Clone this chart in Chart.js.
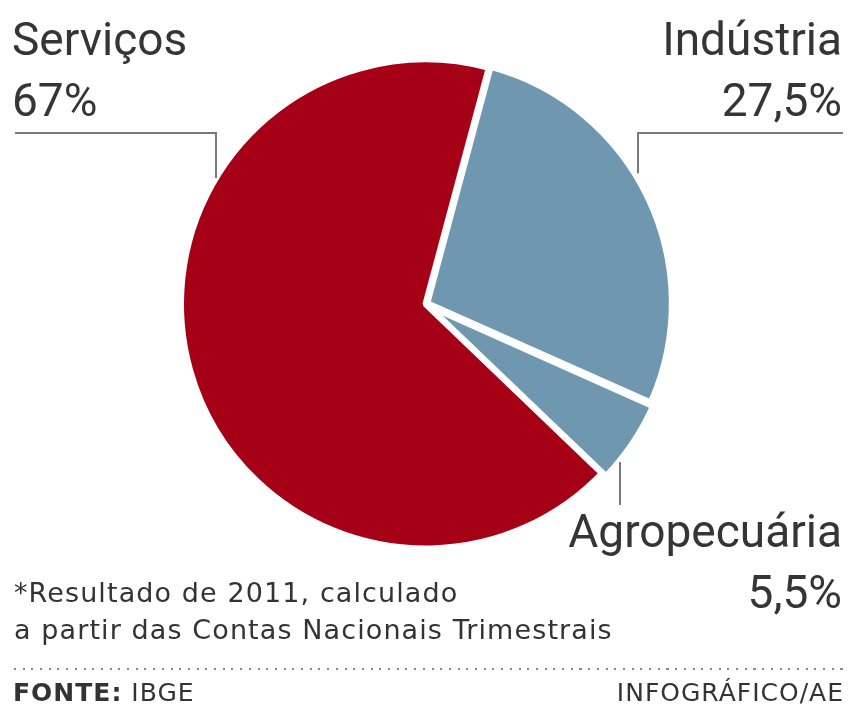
<!DOCTYPE html>
<html lang="pt-BR">
<head>
<meta charset="utf-8">
<script src="https://cdn.jsdelivr.net/npm/chart.js@4/dist/chart.umd.min.js"></script>
<style>
  html, body { margin: 0; padding: 0; background: #fff; }
  #wrap { position: relative; width: 849px; height: 704px; overflow: hidden; }
  #pie { position: absolute; left: 0; top: 0; }
  .lbl { position: absolute; font-family: Roboto, "DejaVu Sans", sans-serif; font-size: 46px; color: #353535; line-height: 61px; white-space: nowrap; }
  .right { text-align: right; }
  .note { position: absolute; left: 14px; top: 574px; font-family: "DejaVu Sans", sans-serif; font-size: 27px; letter-spacing: 1.1px; line-height: 37px; color: #333; white-space: nowrap; }
  .dots { position: absolute; left: 14px; right: 6px; top: 668px; height: 2px;
          background: repeating-linear-gradient(to right, #8a8a8a 0 2px, transparent 2px 8.7px); }
  .foot { position: absolute; top: 680px; font-family: "DejaVu Sans", sans-serif; font-size: 25px; letter-spacing: 1px; color: #333; line-height: 25px; white-space: nowrap; }
</style>
</head>
<body>
<div id="wrap">
  <canvas id="pie" width="849" height="704"></canvas>
  <div class="lbl" id="lblServ" style="left:12px; top:9px;"></div>
  <div class="lbl right" id="lblInd" style="right:7px; top:9px;"></div>
  <div class="lbl right" id="lblAgro" style="right:7px; top:501px;"></div>
  <div class="note">*Resultado de 2011, calculado<br>a partir das Contas Nacionais Trimestrais</div>
  <div class="dots"></div>
  <div class="foot" style="left:13px;"><b>FONTE:</b> IBGE</div>
  <div class="foot" style="right:5px;">INFOGRÁFICO/AE</div>
</div>
<script>
document.addEventListener("DOMContentLoaded", () => {
    // PIB por setor, 2011 (% do total)
    const categories = ["Indústria", "Agropecuária", "Serviços"];
    const shares = [27.5, 5.5, 67];

    const red = "#a60016";
    const blue = "#6f97b0";

    const fmt = (v) => String(v).replace(".", ",") + "%";

    // labels: name on one line, share on the next
    const put = (id, i) => {
        document.getElementById(id).innerHTML = categories[i] + "<br>" + fmt(shares[i]);
    };
    put("lblInd", 0);
    put("lblAgro", 1);
    put("lblServ", 2);

    // leader lines from the labels to the pie edge
    const leaders = {
        id: "leaders",
        afterDatasetsDraw(chart) {
            const arc = chart.getDatasetMeta(0).data[0];
            const cx = arc.x, cy = arc.y, r = arc.outerRadius;
            const c = chart.ctx;
            const edgeY = (x, extra) => {
                const rr = r + extra;
                return cy - Math.sqrt(Math.max(rr * rr - (x - cx) * (x - cx), 0));
            };
            c.save();
            c.strokeStyle = "#7a7a7a";
            c.lineWidth = 2;
            c.beginPath();
            // Serviços
            c.moveTo(15, 133); c.lineTo(216, 133); c.lineTo(216, edgeY(216, 0));
            // Indústria
            c.moveTo(843, 133); c.lineTo(638, 133); c.lineTo(638, edgeY(638, 6) + 2);
            // Agropecuária
            c.moveTo(620, 505); c.lineTo(620, 462);
            c.stroke();
            c.restore();
        }
    };

    new Chart(document.getElementById("pie").getContext("2d"), {
        type: "pie",
        data: {
            labels: categories,
            datasets: [{
                data: shares,
                backgroundColor: [blue, blue, red],
                borderColor: "#ffffff",
                borderWidth: 6,
                offset: [8, 12, 0],
            }],
        },
        options: {
            responsive: false,
            animation: false,
            rotation: 15,
            layout: { padding: { left: 172, right: 170, top: 48, bottom: 144 } },
            plugins: {
                legend: { display: false },
                tooltip: { enabled: false },
            },
        },
        plugins: [leaders],
    });
});
</script>
</body>
</html>
